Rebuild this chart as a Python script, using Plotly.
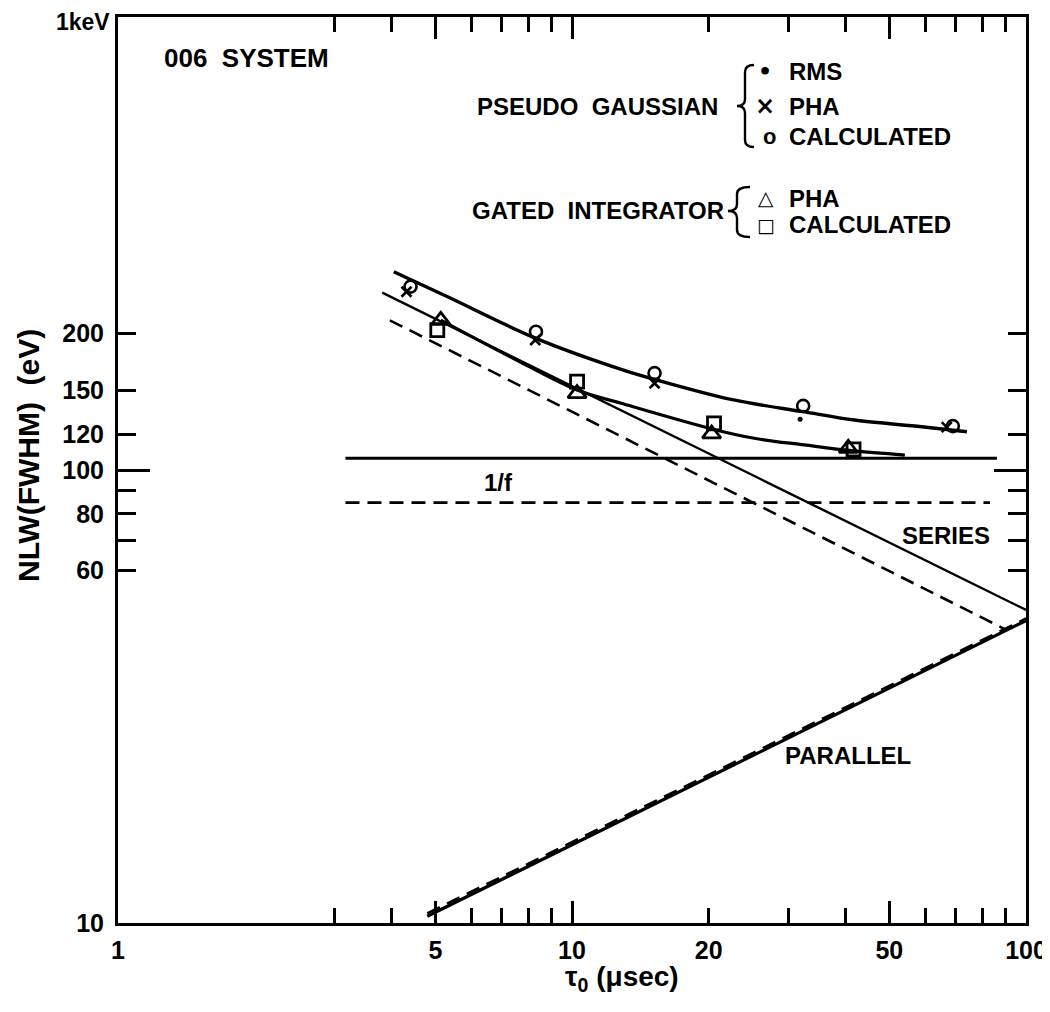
import plotly.graph_objects as go

# ---------------- data ----------------
# Pseudo Gaussian
pg_calc_x = [4.41, 8.33, 15.2, 32.3, 69.0]
pg_calc_y = [254, 202, 163.6, 138.5, 125]
pg_pha_x = [4.32, 8.3, 15.2, 66.9]
pg_pha_y = [247.5, 193.6, 155.4, 124.3]
pg_rms_x = [31.8]
pg_rms_y = [129.4]
pg_fit_x = [4.05, 5.32, 8.33, 12.83, 15.17, 22.4, 32.3, 41.9, 58.9, 74.1]
pg_fit_y = [274, 241.3, 195.3, 166.8, 158.6, 143.2, 134.5, 128.9, 124.6, 121.5]

# Gated integrator
gi_pha_x = [5.14, 10.26, 20.3, 40.6]
gi_pha_y = [214, 147.5, 120.1, 111.7]
gi_calc_x = [5.05, 10.26, 20.55, 41.7]
gi_calc_y = [203.7, 156.7, 126.8, 111.1]
gi_fit_x = [5.14, 7.33, 10.26, 12.83, 20.55, 25.2, 32.5, 41.3, 54.1]
gi_fit_y = [214.3, 177.6, 150.1, 140.4, 122.9, 117.5, 113.6, 110.3, 107.9]

# noise components
flicker_solid_x = [3.17, 86.3]
flicker_solid_y = [106.1, 106.1]
flicker_dash_x = [3.17, 83.3]
flicker_dash_y = [84.7, 84.7]
series_solid_x = [3.82, 100]
series_solid_y = [246.4, 49.1]
series_dash_x = [3.97, 90]
series_dash_y = [214, 44.5]
parallel_solid_x = [4.8, 100]
parallel_solid_y = [10.35, 46.5]
parallel_dash_x = [4.8, 100]
parallel_dash_y = [10.5, 47.0]

# axis ticks
x_label_vals = [1, 5, 10, 20, 50, 100]
x_label_text = ["1", "5", "10", "20", "50", "100"]
x_minor_vals = [3, 4, 6, 7, 8, 9, 30, 40, 60, 70, 80, 90]
x_long_vals = [5, 10, 50]
y_label_vals = [10, 60, 80, 100, 120, 150, 200, 1000]
y_label_text = ["10", "60", "80", "100", "120", "150", "200", ""]
y_top_label = "1keV"
y_minor_vals = [70, 90]
y_long_vals = [100]

# ---------------- figure ----------------
OFF = 8                      # page body margin of the html page
SW, SH = 1050, 1012          # screen size
L, R, T, B = 118, 1026, 17, 923   # plot area in screen pixels
W, H = SW - OFF, SH - 2 * OFF
FONT = "Liberation Sans"


def px(x):
    return (x - L) / (R - L)


def py(y):
    return (B - y) / (B - T)


fig = go.Figure()

line_k = "black"
DASH = "14px,8px"

fig.add_trace(go.Scatter(x=flicker_solid_x, y=flicker_solid_y, mode="lines",
                         line=dict(color=line_k, width=3)))
fig.add_trace(go.Scatter(x=flicker_dash_x, y=flicker_dash_y, mode="lines",
                         line=dict(color=line_k, width=2.6, dash=DASH)))
fig.add_trace(go.Scatter(x=series_solid_x, y=series_solid_y, mode="lines",
                         line=dict(color=line_k, width=2.4)))
fig.add_trace(go.Scatter(x=series_dash_x, y=series_dash_y, mode="lines",
                         line=dict(color=line_k, width=2.6, dash=DASH)))
fig.add_trace(go.Scatter(x=parallel_solid_x, y=parallel_solid_y, mode="lines",
                         line=dict(color=line_k, width=3.2)))
# drawn on the overlay axes (same ranges) so they get rendered
fig.add_trace(go.Scatter(x=parallel_dash_x, y=parallel_dash_y, mode="lines",
                         line=dict(color=line_k, width=2.6, dash=DASH),
                         xaxis="x2", yaxis="y2"))
fig.add_trace(go.Scatter(x=pg_fit_x, y=pg_fit_y, mode="lines",
                         line=dict(color=line_k, width=3.4, shape="spline", smoothing=1.0)))
fig.add_trace(go.Scatter(x=gi_fit_x, y=gi_fit_y, mode="lines",
                         line=dict(color=line_k, width=3.2, shape="spline", smoothing=1.0)))

fig.add_trace(go.Scatter(x=pg_calc_x, y=pg_calc_y, mode="markers",
                         marker=dict(symbol="circle-open", size=12, color=line_k,
                                     line=dict(width=2.6, color=line_k))))
fig.add_trace(go.Scatter(x=pg_pha_x, y=pg_pha_y, mode="markers",
                         marker=dict(symbol="x-thin-open", size=10, color=line_k,
                                     line=dict(width=2.6, color=line_k))))
fig.add_trace(go.Scatter(x=pg_rms_x, y=pg_rms_y, mode="markers",
                         marker=dict(symbol="circle", size=5, color=line_k)))
fig.add_trace(go.Scatter(x=gi_pha_x, y=gi_pha_y, mode="markers",
                         marker=dict(symbol="triangle-up-open", size=16, color=line_k,
                                     line=dict(width=2.8, color=line_k))))
fig.add_trace(go.Scatter(x=gi_calc_x, y=gi_calc_y, mode="markers",
                         marker=dict(symbol="square-open", size=13, color=line_k,
                                     line=dict(width=2.8, color=line_k))))

tickfont = dict(family=FONT, size=25, color="black", weight="bold")

common_x = dict(type="log", range=[0, 2], showgrid=False, zeroline=False,
                ticks="inside", tickwidth=3, tickcolor="black", automargin=False)
common_y = dict(type="log", range=[1, 3], showgrid=False, zeroline=False,
                ticks="inside", tickwidth=3, tickcolor="black", automargin=False)

fig.update_layout(
    width=W, height=H,
    margin=dict(l=L - OFF, r=W - (R - OFF), t=T - OFF, b=H - (B - OFF), pad=0),
    paper_bgcolor="white", plot_bgcolor="white",
    showlegend=False,
    xaxis=dict(**common_x, tickmode="array", tickvals=x_label_vals, ticktext=x_label_text,
               ticklen=15, showline=True, linewidth=3, linecolor="black", mirror="ticks",
               tickfont=tickfont, ticklabelstandoff=3, ticklabeloverflow="allow",
               minor=dict(tickmode="array", tickvals=x_minor_vals, ticks="inside",
                          ticklen=15, tickwidth=3, tickcolor="black", showgrid=False)),
    xaxis2=dict(**common_x, overlaying="x", anchor="y2", side="bottom",
                tickmode="array", tickvals=x_long_vals, ticklen=22,
                showticklabels=False, showline=False, mirror="ticks"),
    yaxis=dict(**common_y, tickmode="array", tickvals=y_label_vals, ticktext=y_label_text,
               ticklen=18, showline=True, linewidth=3, linecolor="black", mirror="ticks",
               tickfont=tickfont, ticklabelstandoff=6, ticklabeloverflow="allow",
               minor=dict(tickmode="array", tickvals=y_minor_vals, ticks="inside",
                          ticklen=18, tickwidth=3, tickcolor="black", showgrid=False)),
    yaxis2=dict(**common_y, overlaying="y", anchor="x2", side="left",
                tickmode="array", tickvals=y_long_vals, ticklen=32,
                showticklabels=False, showline=False, mirror="ticks"),
)


def txt(x, y, s, size=24, xanchor="center", family=FONT, weight="bold", angle=0):
    fig.add_annotation(x=px(x), y=py(y), xref="paper", yref="paper", text=s,
                       showarrow=False, xanchor=xanchor, yanchor="middle",
                       textangle=angle,
                       font=dict(family=family, size=size, color="black", weight=weight))


# top label of the y axis (1000 eV)
txt(112, 22, y_top_label, size=23, xanchor="right")

txt(162, 58, "006  SYSTEM", size=26, xanchor="left")
txt(720, 107, "PSEUDO  GAUSSIAN", size=24, xanchor="right")
txt(726, 211, "GATED  INTEGRATOR", size=24, xanchor="right")
txt(787, 72, "RMS", size=24, xanchor="left")
txt(787, 107, "PHA", size=24, xanchor="left")
txt(787, 136, "CALCULATED", size=24, xanchor="left")
txt(787, 198, "PHA", size=24, xanchor="left")
txt(787, 225, "CALCULATED", size=24, xanchor="left")
# legend symbols
txt(765, 72, "•", size=22, family="DejaVu Sans")
txt(765, 106, "×", size=24, family="DejaVu Sans")
txt(769, 136, "o", size=22)
txt(766, 198, "△", size=20, family="DejaVu Sans", weight="normal")
txt(766, 225, "□", size=19, family="DejaVu Sans", weight="normal")

txt(498, 483, "1/f", size=24)
txt(946, 535, "SERIES", size=24)
txt(848, 755, "PARALLEL", size=24)
txt(622, 978, "τ<sub>0</sub> (μsec)", size=28)
txt(28, 456, "NLW(FWHM)  (eV)", size=30, angle=-90)


def brace(xp, xs, xe, y0, ym, y1, r=7):
    def P(x, y):
        return f"{px(x):.5f},{py(y):.5f}"
    return (f"M {P(xe, y0)} Q {P(xs, y0)} {P(xs, y0 + r)} L {P(xs, ym - r)} "
            f"Q {P(xs, ym)} {P(xp, ym)} Q {P(xs, ym)} {P(xs, ym + r)} "
            f"L {P(xs, y1 - r)} Q {P(xs, y1)} {P(xe, y1)}")


for b in [(737, 745, 754, 65, 106, 147), (728, 737, 750, 187, 211, 237)]:
    fig.add_shape(type="path", path=brace(*b), xref="paper", yref="paper",
                  line=dict(color="black", width=2.4))

fig.write_html("out.html")
